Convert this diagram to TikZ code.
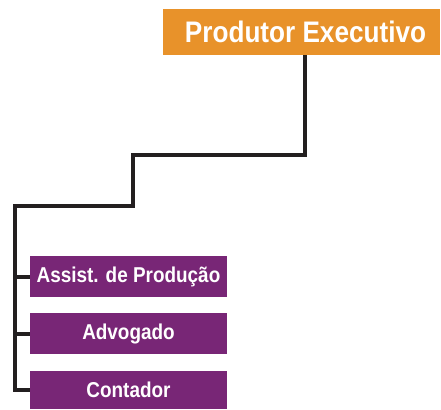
\documentclass[tikz,border=0pt]{standalone}
\usepackage{fontspec}
\setmainfont{Liberation Sans}[FakeStretch=0.88]
\definecolor{orgbox}{HTML}{E8922A}
\definecolor{purbox}{HTML}{782676}
\definecolor{lineblk}{HTML}{231F20}
\begin{document}
\begin{tikzpicture}[x=1pt,y=-1pt,
  topbox/.style={fill=orgbox,text=white,font=\bfseries\fontsize{29.7}{32}\selectfont,minimum width=277pt,minimum height=46pt,inner sep=0pt,anchor=center},
  subbox/.style={fill=purbox,text=white,font=\bfseries\fontsize{21.5}{23}\selectfont,minimum width=197pt,inner sep=0pt,anchor=center},
  conn/.style={draw=lineblk,line width=4pt}]
\useasboundingbox (0,0) rectangle (441,409);
\node[topbox] (pe) at (301.5,32) {\hspace*{8pt}Produtor Executivo};
\node[subbox,minimum height=41pt] (a1) at (128.5,276.5) {Assist. de Produção};
\node[subbox,minimum height=41pt] (a2) at (128.5,333.5) {Advogado};
\node[subbox,minimum height=38pt] (a3) at (128.5,390) {Contador};
\coordinate (c1) at (305,155);
\coordinate (c2) at (133,155);
\coordinate (c3) at (133,206);
\coordinate (c4) at (15,206);
\coordinate (b1) at (c4 |- a1.west);
\coordinate (b2) at (c4 |- a2.west);
\coordinate (b3) at (c4 |- a3.west);
\draw[conn] (pe.south -| c1) -- (c1) -- (c2) -- (c3) -- (c4) -- (b3) -- (a3.west);
\draw[conn] (b1) -- (a1.west);
\draw[conn] (b2) -- (a2.west);
\end{tikzpicture}
\end{document}
